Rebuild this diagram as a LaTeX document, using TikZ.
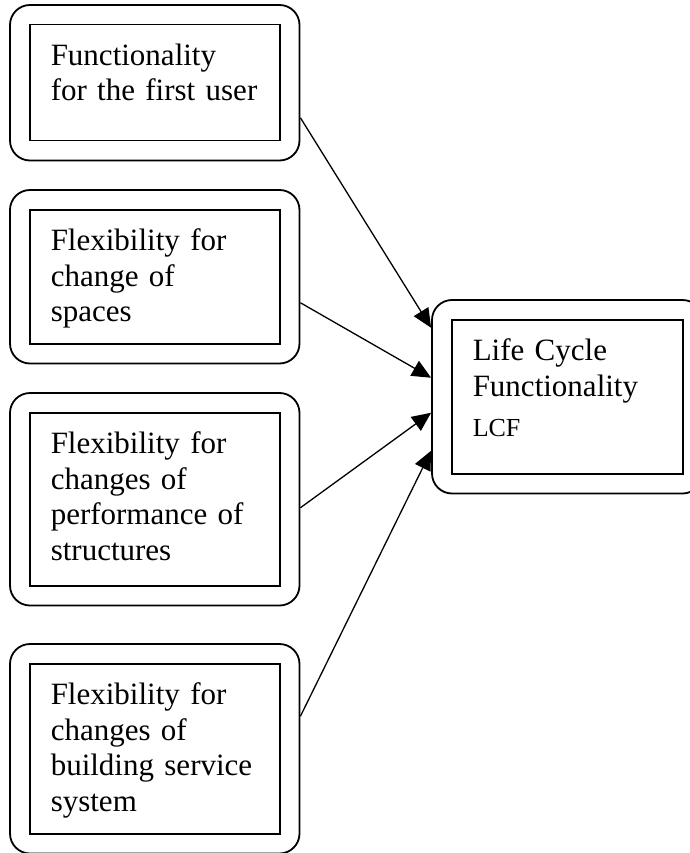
\documentclass[tikz,border=0pt]{standalone}
\usepackage{fontspec}
\setmainfont{Liberation Serif}
\usepackage{tikz}
\usetikzlibrary{fit,arrows.meta}

\newcommand{\topbox}[2]{\vbox to #1{\noindent #2\vfill}}

\begin{document}
\begin{tikzpicture}[x=1pt, y=-1pt,
    inbox/.style={draw, line width=1.5pt, anchor=north west, align=left, text width=#1,
        inner xsep=21pt, inner ysep=19pt, font=\fontsize{31}{35.5}\selectfont},
    outbox/.style={draw, line width=1.8pt, rounded corners=20pt, inner sep=19pt},
    arr/.style={line width=1.3pt, -{Triangle[length=19pt,width=17pt]}}]
        \useasboundingbox (0,0) rectangle (689,853);

        \node[inbox=208pt] (FU) at (29,24) {\topbox{78pt}{Functionality\\ for the first user}};
        \node[inbox=208pt] (FS) at (29,209) {\topbox{96pt}{Flexibility for\\ change of\\ spaces}};
        \node[inbox=208pt] (FP) at (29,412) {\topbox{135pt}{Flexibility for\\ changes of\\ performance of\\ structures}};
        \node[inbox=208pt] (FB) at (29,663) {\topbox{132pt}{Flexibility for\\ changes of\\ building service\\ system}};
        \node[inbox=189pt] (LCF) at (451,319) {\topbox{116pt}{Life Cycle\\ Functionality\\[5pt] {\fontsize{26}{30}\selectfont LCF}}};

        \node[outbox, fit=(FU)] (oFU) {};
        \node[outbox, fit=(FS)] (oFS) {};
        \node[outbox, fit=(FP)] (oFP) {};
        \node[outbox, fit=(FB)] (oFB) {};
        \node[outbox, fit=(LCF)] (oLCF) {};

        \draw[arr] ([yshift=-35pt]oFU.east) -- ([yshift=69pt]oLCF.west); % first user into LCF
        \draw[arr] ([yshift=-26pt]oFS.east) -- ([yshift=19pt]oLCF.west); % spaces into LCF
        \draw[arr] ([yshift=-8.5pt]oFP.east) -- ([yshift=-16pt]oLCF.west); % structures into LCF
        \draw[arr] ([yshift=32.5pt]oFB.east) -- ([yshift=-54pt]oLCF.west); % service system into LCF
    \end{tikzpicture}
\end{document}
